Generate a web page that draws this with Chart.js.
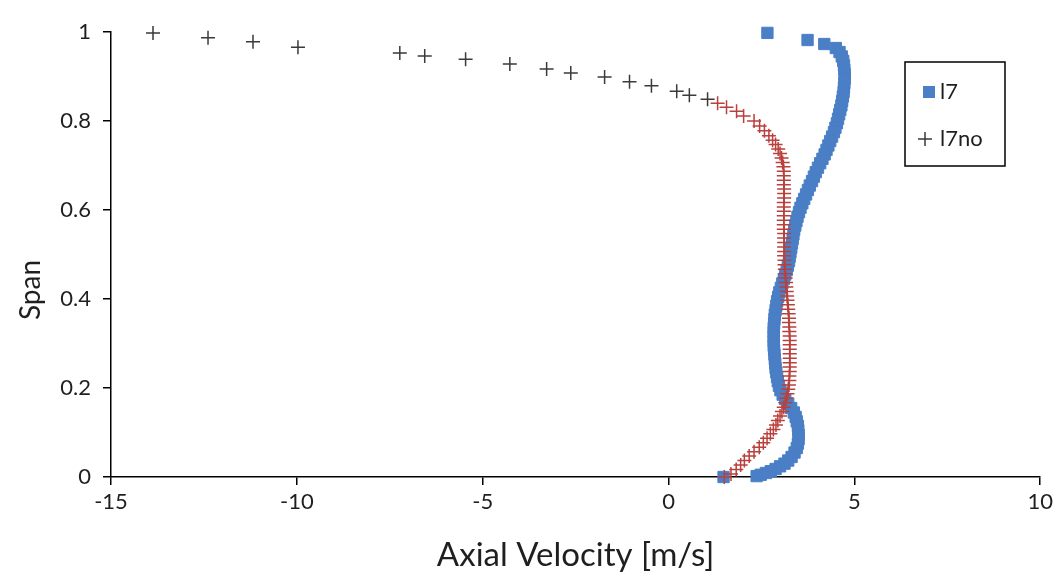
<!DOCTYPE html>
<html>
<head>
<meta charset="utf-8">
<script src="https://cdn.jsdelivr.net/npm/chart.js@4.4.1/dist/chart.umd.min.js"></script>
<style>
  html, body { margin: 0; padding: 0; background: #ffffff; }
  #wrap { width: 1057px; height: 575px; }
</style>
</head>
<body>
<div id="wrap"><canvas id="chart" width="1057" height="575"></canvas></div>
<script>
// Axial velocity profiles over the blade span
const xTicks = [-15, -10, -5, 0, 5, 10];
const yTicks = [0, 0.2, 0.4, 0.6, 0.8, 1];

// l7: span positions and axial velocity [m/s]
const l7Span = [
  0.998, 0.982, 0.973, 0.964, 0.955, 0.945, 0.935, 0.925, 0.915, 0.905,
  0.895, 0.885, 0.875, 0.865, 0.855, 0.845, 0.835, 0.825, 0.815, 0.805,
  0.795, 0.785, 0.775, 0.765, 0.755, 0.745, 0.735, 0.725, 0.715, 0.705,
  0.695, 0.685, 0.675, 0.665, 0.655, 0.645, 0.635, 0.625, 0.615, 0.605,
  0.595, 0.585, 0.575, 0.565, 0.555, 0.545, 0.535, 0.525, 0.515, 0.505,
  0.495, 0.485, 0.475, 0.465, 0.455, 0.445, 0.435, 0.425, 0.415, 0.405,
  0.395, 0.385, 0.375, 0.365, 0.355, 0.345, 0.335, 0.325, 0.315, 0.305,
  0.295, 0.285, 0.275, 0.265, 0.255, 0.245, 0.235, 0.225, 0.215, 0.205,
  0.195, 0.185, 0.175, 0.165, 0.155, 0.145, 0.135, 0.125, 0.115, 0.105,
  0.095, 0.085, 0.075, 0.065, 0.055, 0.045, 0.037, 0.030, 0.024, 0.018,
  0.013, 0.009, 0.005, 0.002, 0.000
];
const l7Vel = [
  2.66, 3.74, 4.19, 4.50, 4.60, 4.66, 4.70, 4.72, 4.73, 4.74,
  4.74, 4.73, 4.72, 4.71, 4.69, 4.67, 4.65, 4.62, 4.59, 4.56,
  4.53, 4.49, 4.45, 4.40, 4.35, 4.30, 4.25, 4.20, 4.14, 4.08,
  4.02, 3.96, 3.91, 3.86, 3.80, 3.75, 3.70, 3.65, 3.60, 3.55,
  3.51, 3.47, 3.44, 3.41, 3.38, 3.36, 3.34, 3.32, 3.30, 3.28,
  3.26, 3.24, 3.21, 3.18, 3.14, 3.10, 3.06, 3.02, 2.98, 2.95,
  2.92, 2.90, 2.88, 2.86, 2.85, 2.84, 2.83, 2.83, 2.83, 2.83,
  2.83, 2.84, 2.85, 2.86, 2.87, 2.88, 2.90, 2.92, 2.94, 2.97,
  3.01, 3.07, 3.14, 3.22, 3.30, 3.37, 3.42, 3.45, 3.48, 3.49,
  3.50, 3.50, 3.48, 3.45, 3.39, 3.31, 3.22, 3.12, 3.00, 2.88,
  2.75, 2.62, 2.48, 2.37, 1.48
];

// l7no: span positions and axial velocity [m/s]
const l7noSpan = [
  0.998, 0.987, 0.978, 0.966, 0.953, 0.946, 0.939, 0.928, 0.917, 0.908,
  0.899, 0.888, 0.879, 0.867, 0.858, 0.849, 0.840, 0.831, 0.822, 0.811,
  0.800, 0.789, 0.778, 0.767, 0.757, 0.747, 0.737, 0.727, 0.717, 0.707,
  0.697, 0.687, 0.677, 0.667, 0.657, 0.647, 0.637, 0.627, 0.617, 0.607,
  0.597, 0.587, 0.577, 0.567, 0.557, 0.547, 0.537, 0.527, 0.517, 0.507,
  0.497, 0.487, 0.477, 0.467, 0.457, 0.447, 0.437, 0.427, 0.417, 0.407,
  0.397, 0.387, 0.377, 0.367, 0.357, 0.347, 0.337, 0.327, 0.317, 0.307,
  0.297, 0.287, 0.277, 0.267, 0.257, 0.247, 0.237, 0.227, 0.217, 0.207,
  0.197, 0.187, 0.177, 0.167, 0.157, 0.147, 0.137, 0.127, 0.117, 0.107,
  0.097, 0.087, 0.077, 0.067, 0.057, 0.047, 0.037, 0.027, 0.017, 0.007,
  0.000
];
const l7noVel = [
  -13.87, -12.39, -11.18, -9.97, -7.23, -6.56, -5.46, -4.27, -3.28, -2.63,
  -1.72, -1.05, -0.46, 0.22, 0.56, 1.05, 1.32, 1.56, 1.83, 2.02,
  2.30, 2.45, 2.58, 2.70, 2.80, 2.88, 2.95, 3.00, 3.04, 3.07,
  3.09, 3.10, 3.10, 3.10, 3.10, 3.11, 3.11, 3.11, 3.10, 3.10,
  3.10, 3.10, 3.10, 3.10, 3.10, 3.11, 3.11, 3.11, 3.11, 3.11,
  3.11, 3.12, 3.12, 3.13, 3.14, 3.15, 3.16, 3.17, 3.18, 3.19,
  3.20, 3.21, 3.22, 3.23, 3.24, 3.24, 3.25, 3.25, 3.26, 3.26,
  3.26, 3.26, 3.26, 3.26, 3.26, 3.26, 3.26, 3.25, 3.25, 3.24,
  3.22, 3.20, 3.17, 3.14, 3.10, 3.05, 3.00, 2.94, 2.89, 2.82,
  2.74, 2.65, 2.55, 2.44, 2.30, 2.17, 2.04, 1.94, 1.82, 1.68,
  1.50
];

const toPoints = (vel, span) => vel.map((v, i) => ({ x: v, y: span[i] }));

const FONT = 'Lato, "Open Sans", sans-serif';
const TEXT = '#1f1f1f';
const BLUE = '#4a7fc6';
const RED = '#b9403c';
const DARK = '#3a3a3a';

// Boxed legend in the upper right of the plot
const boxedLegend = {
  id: 'boxedLegend',
  afterDraw(chart) {
    const ctx = chart.ctx;
    const x0 = 905, y0 = 62, w = 100, h = 104;
    ctx.save();
    ctx.fillStyle = '#ffffff';
    ctx.fillRect(x0, y0, w, h);
    ctx.strokeStyle = '#000000';
    ctx.lineWidth = 1.5;
    ctx.strokeRect(x0, y0, w, h);
    const rows = [{ ds: 0, y: 92 }, { ds: 1, y: 139 }];
    ctx.font = '22px ' + FONT;
    ctx.textBaseline = 'middle';
    ctx.textAlign = 'left';
    rows.forEach(r => {
      const ds = chart.data.datasets[r.ds];
      if (ds.pointStyle === 'rect') {
        ctx.fillStyle = BLUE;
        ctx.fillRect(923, r.y - 6, 12, 12);
      } else {
        ctx.strokeStyle = DARK;
        ctx.lineWidth = 1.5;
        ctx.beginPath();
        ctx.moveTo(918, r.y); ctx.lineTo(932, r.y);
        ctx.moveTo(925, r.y - 7); ctx.lineTo(925, r.y + 7);
        ctx.stroke();
      }
      ctx.fillStyle = TEXT;
      ctx.fillText(ds.label, 940, r.y);
    });
    ctx.restore();
  }
};

// Rotated y-axis title
const spanTitle = {
  id: 'spanTitle',
  afterDraw(chart) {
    const ctx = chart.ctx;
    ctx.save();
    ctx.translate(31, 290);
    ctx.rotate(-Math.PI / 2);
    ctx.font = '28px ' + FONT;
    ctx.fillStyle = TEXT;
    ctx.textAlign = 'center';
    ctx.textBaseline = 'middle';
    ctx.fillText('Span', 0, 0);
    ctx.restore();
  }
};

new Chart(document.getElementById('chart'), {
  type: 'scatter',
  data: {
    datasets: [
      {
        label: 'l7',
        data: toPoints(l7Vel, l7Span),
        pointStyle: 'rect',
        pointRadius: 8,
        pointBorderWidth: 1,
        pointBackgroundColor: BLUE,
        pointBorderColor: BLUE,
        showLine: false,
        clip: false,
        order: 1
      },
      {
        label: 'l7no',
        data: toPoints(l7noVel, l7noSpan),
        pointStyle: 'cross',
        pointRadius: 7,
        pointBorderWidth: 1.5,
        pointBorderColor: ctx => (ctx.raw && ctx.raw.y > 0.84 ? DARK : RED),
        pointBackgroundColor: 'rgba(0,0,0,0)',
        showLine: false,
        clip: false,
        order: 0
      }
    ]
  },
  options: {
    responsive: false,
    animation: false,
    layout: { padding: { top: 32, right: 15, left: 0, bottom: 0 } },
    plugins: {
      legend: { display: false },
      tooltip: { enabled: false }
    },
    scales: {
      x: {
        type: 'linear',
        min: xTicks[0],
        max: xTicks[xTicks.length - 1],
        afterBuildTicks: s => { s.ticks = xTicks.map(v => ({ value: v })); },
        afterFit: s => { s.height = 98; },
        border: { display: true, color: '#000000', width: 1.5 },
        grid: { drawOnChartArea: false, drawTicks: true, tickLength: 8, color: '#000000', lineWidth: 1.5 },
        ticks: { color: TEXT, font: { family: FONT, size: 22 }, padding: 4, maxRotation: 0 },
        title: {
          display: true,
          text: 'Axial Velocity [m/s]',
          color: TEXT,
          font: { family: FONT, size: 33 },
          padding: { top: 0, bottom: 0 }
        }
      },
      y: {
        type: 'linear',
        min: yTicks[0],
        max: yTicks[yTicks.length - 1],
        afterBuildTicks: s => { s.ticks = yTicks.map(v => ({ value: v })); },
        afterFit: s => { s.width = 111; },
        border: { display: true, color: '#000000', width: 1.5 },
        grid: { drawOnChartArea: false, drawTicks: true, tickLength: 8, color: '#000000', lineWidth: 1.5 },
        ticks: {
          color: TEXT,
          font: { family: FONT, size: 22 },
          padding: 12,
          callback: v => String(Math.round(v * 10) / 10)
        }
      }
    }
  },
  plugins: [boxedLegend, spanTitle]
});
</script>
</body>
</html>
